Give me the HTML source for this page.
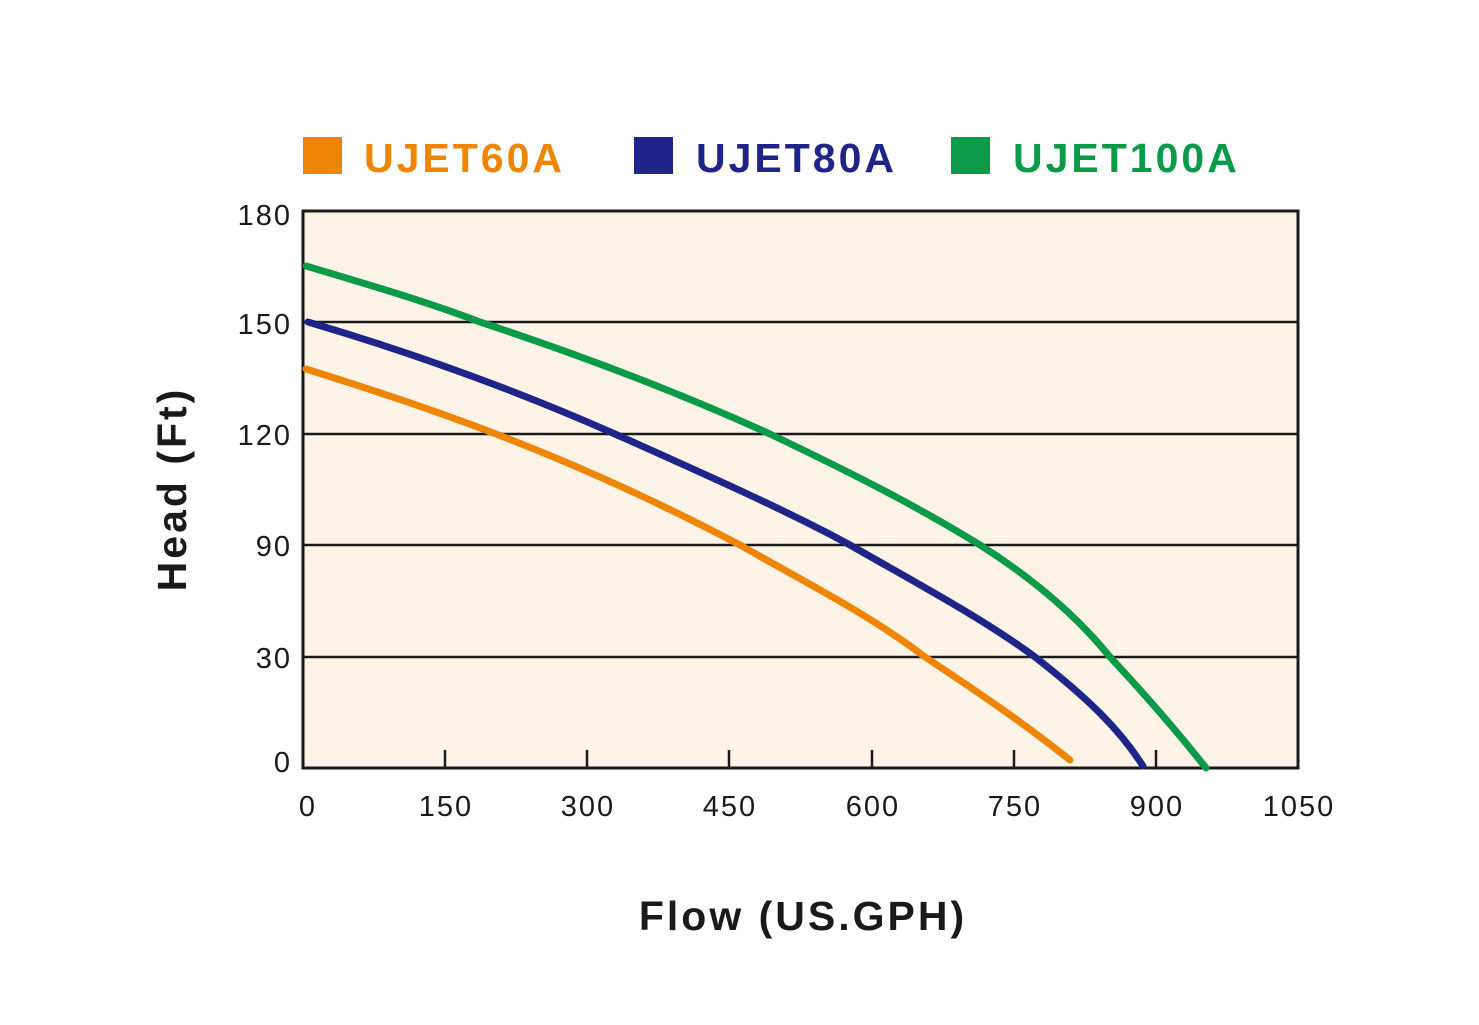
<!DOCTYPE html>
<html><head><style>
html,body{margin:0;padding:0;background:#fff;}
svg{display:block;font-family:"Liberation Sans",Arial,sans-serif;}
</style></head><body>
<svg width="1479" height="1025" viewBox="0 0 1479 1025">
<rect x="303" y="211" width="995" height="557" fill="#fdf4e7"/>
<g stroke="#1a1a1a" stroke-width="2.5" fill="none">
<line x1="303" y1="322" x2="1298" y2="322"/>
<line x1="303" y1="434" x2="1298" y2="434"/>
<line x1="303" y1="545" x2="1298" y2="545"/>
<line x1="303" y1="657" x2="1298" y2="657"/>
<line x1="445" y1="750" x2="445" y2="768"/>
<line x1="587" y1="750" x2="587" y2="768"/>
<line x1="729" y1="750" x2="729" y2="768"/>
<line x1="872" y1="750" x2="872" y2="768"/>
<line x1="1014" y1="750" x2="1014" y2="768"/>
<line x1="1156" y1="750" x2="1156" y2="768"/>
<rect x="303" y="211" width="995" height="557" stroke-width="3"/>
</g>
<g fill="none" stroke-width="7" stroke-linecap="round">
<path d="M306,369 C420,405 560,450 740,545 C810,585 870,615 925,657 C990,700 1030,728 1070,760" stroke="#ee8505"/>
<path d="M308,322 C420,355 520,392 615,434 C700,472 790,512 850,545 C920,585 985,620 1035,657 C1090,700 1120,730 1143,766" stroke="#1f2488"/>
<path d="M306,266 C380,288 430,303 480,322 C580,355 680,393 770,434 C860,477 920,508 980,545 C1040,583 1080,620 1110,657 C1150,700 1180,735 1206,768" stroke="#0b9a48"/>
</g>
<g font-size="29" fill="#1a1a1a" text-anchor="end" letter-spacing="2">
<text x="292" y="225">180</text>
<text x="292" y="334">150</text>
<text x="292" y="445">120</text>
<text x="292" y="556">90</text>
<text x="292" y="668">30</text>
<text x="292" y="772">0</text>
</g>
<g font-size="29" fill="#1a1a1a" text-anchor="middle" letter-spacing="2">
<text x="308" y="816">0</text>
<text x="446" y="816">150</text>
<text x="588" y="816">300</text>
<text x="730" y="816">450</text>
<text x="873" y="816">600</text>
<text x="1015" y="816">750</text>
<text x="1157" y="816">900</text>
<text x="1299" y="816">1050</text>
</g>
<text x="803" y="930" font-size="41" font-weight="bold" text-anchor="middle" fill="#1a1a1a" letter-spacing="3">Flow (US.GPH)</text>
<text transform="translate(186,489) rotate(-90)" font-size="41" font-weight="bold" text-anchor="middle" fill="#1a1a1a" letter-spacing="3">Head (Ft)</text>
<rect x="303" y="137" width="39" height="37" fill="#ee8505"/>
<text x="364" y="172" font-size="41" font-weight="bold" fill="#ee8505" letter-spacing="3">UJET60A</text>
<rect x="634" y="137" width="39" height="37" fill="#1f2488"/>
<text x="696" y="172" font-size="41" font-weight="bold" fill="#1f2488" letter-spacing="3">UJET80A</text>
<rect x="951" y="137" width="39" height="37" fill="#0b9a48"/>
<text x="1013" y="172" font-size="41" font-weight="bold" fill="#0b9a48" letter-spacing="3">UJET100A</text>
</svg>
</body></html>
